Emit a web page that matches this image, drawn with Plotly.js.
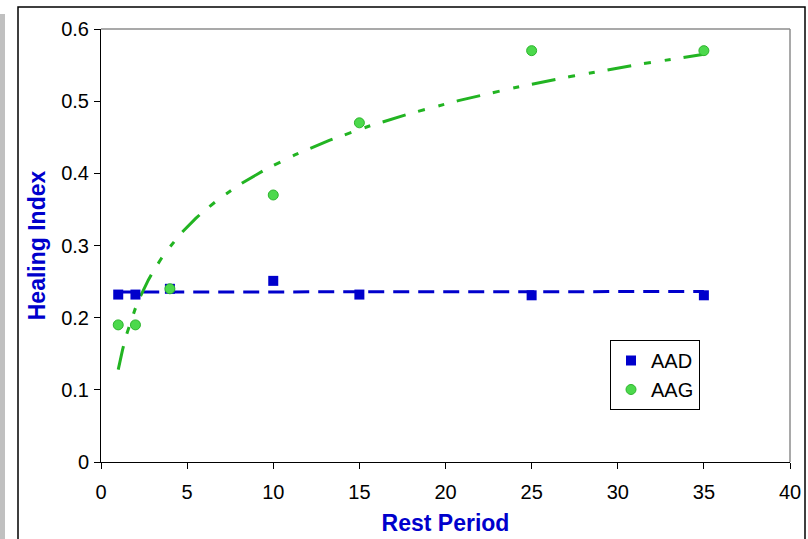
<!DOCTYPE html>
<html>
<head>
<meta charset="utf-8">
<script src="https://cdn.plot.ly/plotly-3.0.1.min.js"></script>
<style>
  html, body { margin: 0; padding: 0; background: #ffffff; }
  #chart { width: 808px; height: 539px; }
</style>
</head>
<body>
<div id="chart"></div>
<script>
// ---- data ----
var restPeriod = [1, 2, 4, 10, 15, 25, 35];
var aadValues  = [0.232, 0.232, 0.24, 0.251, 0.232, 0.231, 0.231];
var aagValues  = [0.19, 0.19, 0.24, 0.37, 0.47, 0.57, 0.57];
var xTicks     = [0, 5, 10, 15, 20, 25, 30, 35, 40];
var yTicks     = [0, 0.1, 0.2, 0.3, 0.4, 0.5, 0.6];
var yTickText  = ['0', '0.1', '0.2', '0.3', '0.4', '0.5', '0.6'];
// trendline coefficients
var aadTrendCoef = [0.2355, 0.00002];   // intercept, slope (linear)
var aagTrendCoef = [0.128, 0.1229];     // b, a  : y = b + a*ln(x)
var trendRange   = [1, 35];

// trend curves built from the coefficients
var aadTrendX = trendRange.slice();
var aadTrendY = aadTrendX.map(function (x) { return aadTrendCoef[0] + aadTrendCoef[1] * x; });
var aagTrendX = [];
for (var x = trendRange[0]; x <= trendRange[1] + 1e-9; x += 0.25) aagTrendX.push(x);
var aagTrendY = aagTrendX.map(function (x) { return aagTrendCoef[0] + aagTrendCoef[1] * Math.log(x); });

var BLUE = '#0000CC';
var GREEN_LINE = '#22B422';
var GREEN_FILL = '#4CD94C';

var traces = [
  { x: aadTrendX, y: aadTrendY, mode: 'lines', showlegend: false, hoverinfo: 'skip',
    line: { color: BLUE, width: 3, dash: '16px,9px' } },
  { x: aagTrendX, y: aagTrendY, mode: 'lines', showlegend: false, hoverinfo: 'skip',
    line: { color: GREEN_LINE, width: 3, dash: '24px,13px,7px,14px,6px,13px' } },
  { x: restPeriod, y: aadValues, mode: 'markers', name: 'AAD', type: 'scatter',
    marker: { symbol: 'square', size: 10, color: BLUE, line: { color: BLUE, width: 0 } } },
  { x: restPeriod, y: aagValues, mode: 'markers', name: 'AAG', type: 'scatter',
    marker: { symbol: 'circle', size: 10, color: GREEN_FILL, line: { color: '#2DB52D', width: 1 } } }
];

// plot area in pixels: x 101..790, y 29..462
var L = 101, R = 790, T = 29, B = 462;
function px(p) { return (p - L) / (R - L); }
function py(p) { return (B - p) / (B - T); }

var layout = {
  width: 808, height: 539,
  margin: { l: L, r: 808 - R, t: T, b: 539 - B, pad: 0 },
  paper_bgcolor: '#ffffff', plot_bgcolor: '#ffffff',
  font: { family: 'Arial, "Liberation Sans", sans-serif', color: '#000000', size: 20 },
  showlegend: true,
  legend: {
    x: px(610), y: py(340), xanchor: 'left', yanchor: 'top',
    bgcolor: '#ffffff', bordercolor: '#000000', borderwidth: 1,
    font: { size: 20, color: '#000000' }, itemwidth: 30, tracegroupgap: 0
  },
  xaxis: {
    range: [0, 40], tickvals: xTicks, ticktext: xTicks.map(String),
    showgrid: false, zeroline: false, showline: true, linecolor: '#000000', linewidth: 1,
    ticks: 'outside', ticklen: 6, tickcolor: '#000000', tickwidth: 1,
    tickfont: { size: 20 }, ticklabelstandoff: 6, fixedrange: true,
    title: { text: '<b>Rest Period</b>', font: { size: 23, color: BLUE }, standoff: 12 }
  },
  yaxis: {
    range: [0, 0.6], tickvals: yTicks, ticktext: yTickText,
    showgrid: false, zeroline: false, showline: true, linecolor: '#000000', linewidth: 1,
    ticks: 'outside', ticklen: 6, tickcolor: '#000000', tickwidth: 1,
    tickfont: { size: 20 }, ticklabelstandoff: 1, fixedrange: true,
    title: { text: '<b>Healing Index</b>', font: { size: 23, color: BLUE }, standoff: 9 }
  },
  shapes: [
    // gray strip at far left
    { type: 'rect', xref: 'paper', yref: 'paper', x0: px(0), x1: px(5), y0: py(560), y1: py(14),
      fillcolor: '#C0C0C0', line: { width: 0 }, layer: 'below' },
    // outer chart border
    { type: 'rect', xref: 'paper', yref: 'paper', x0: px(18), x1: px(805), y0: py(560), y1: py(7),
      fillcolor: 'rgba(0,0,0,0)', line: { color: '#000000', width: 1.5 }, layer: 'below' },
    // plot area top & right border (gray)
    { type: 'line', xref: 'paper', yref: 'paper', x0: 0, x1: 1, y0: 1, y1: 1,
      line: { color: '#8C8C8C', width: 1.5 } },
    { type: 'line', xref: 'paper', yref: 'paper', x0: 1, x1: 1, y0: 0, y1: 1,
      line: { color: '#8C8C8C', width: 1.5 } }
  ]
};

Plotly.newPlot('chart', traces, layout, { displayModeBar: false, staticPlot: true });
</script>
</body>
</html>
